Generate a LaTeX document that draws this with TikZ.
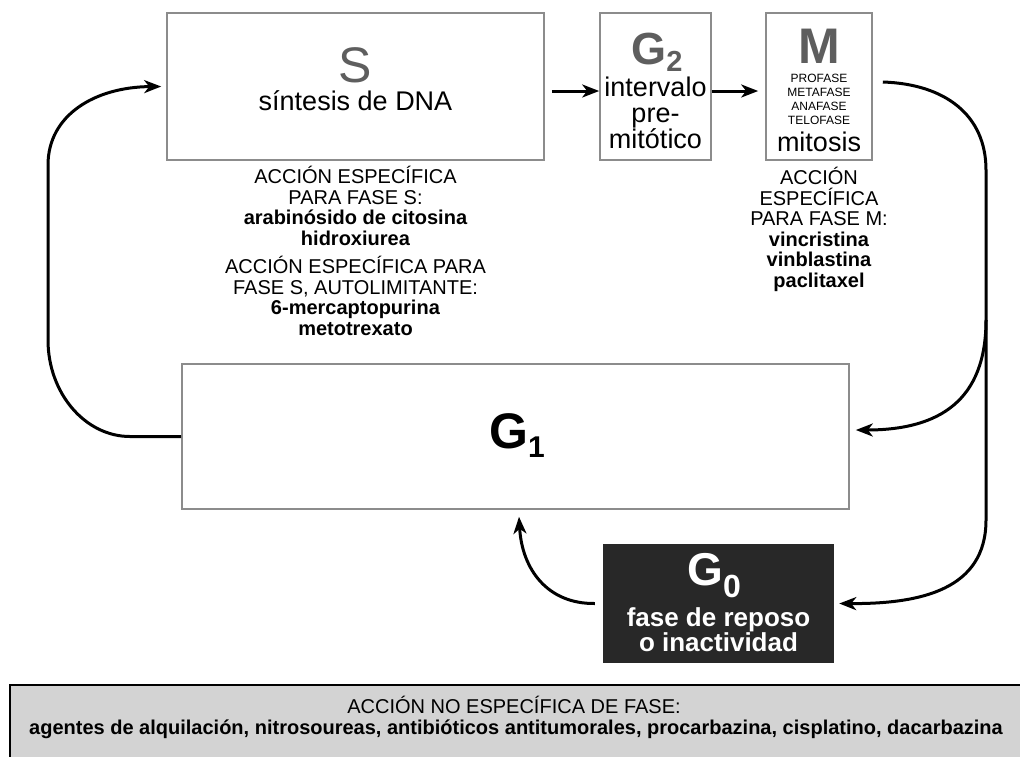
\documentclass[tikz,border=0pt]{standalone}
\usepackage{fontspec}
\setmainfont{Liberation Sans}
\usetikzlibrary{arrows.meta}
\definecolor{boxgray}{HTML}{8C8C8C}
\definecolor{lettergray}{HTML}{5E5E5E}
\definecolor{restfill}{HTML}{282828}
\definecolor{notefill}{HTML}{D3D3D3}
\newcommand{\fsz}[2]{\fontsize{#1}{#2}\selectfont}
\tikzset{
  phase/.style={draw=boxgray, line width=1.6pt, inner sep=0pt},
  cyclearrow/.style={line width=3pt, -{Stealth[length=17pt,width=13pt,inset=5pt]}},
  druglist/.style={align=center, inner sep=0pt, anchor=north, font=\fsz{20}{20.5}},
}
\begin{document}
\begin{tikzpicture}[x=1pt,y=-1pt]
      \useasboundingbox (0,0) rectangle (1020,756);
      \fill[white] (0,0) rectangle (1020,756);
      \node[phase, minimum width=377pt, minimum height=147pt] (S) at (355.5,86.5) {};
      \node[phase, minimum width=111pt, minimum height=147pt] (G2) at (655.5,86.5) {};
      \node[phase, minimum width=106pt, minimum height=147pt] (M) at (819,86.5) {};
      \node[phase, minimum width=667pt, minimum height=145pt] (G1) at (515.5,436.5) {};
      \node[fill=restfill, minimum width=231pt, minimum height=119pt, inner sep=0pt] (G0) at (718.5,603.5) {};
      \node[fill=notefill, minimum width=1020pt, minimum height=90pt, inner sep=0pt, anchor=north west] (note) at (10,685) {};
      \draw[line width=2.4pt] (note.south west) -- (note.north west) -- (note.north east);
      \node[text=lettergray, font=\fsz{50}{50}, anchor=base, inner sep=0pt] (Sletter) at (355.5,82) {S};
      \node[font=\fsz{27}{27}, anchor=base, inner sep=0pt] (Sname) at (355.5,110) {síntesis de DNA};
      \node[text=lettergray, font=\bfseries\fsz{45}{45}, anchor=base, inner sep=0pt] (G2letter) at (657,64) {G\raisebox{-7pt}{\fsz{29}{29}2}};
      \node[align=center, font=\fsz{27}{25.3}, anchor=north, inner sep=0pt] (G2name) at (655.5,77) {intervalo\\pre-\\mitótico};
      \node[text=lettergray, font=\bfseries\fsz{50}{50}, anchor=base, inner sep=0pt] (Mletter) at (819,63.5) {M};
      \node[align=center, font=\fsz{12}{14}, anchor=north, inner sep=0pt] (Mstages) at (819,73.5) {PROFASE\\METAFASE\\ANAFASE\\TELOFASE};
      \node[font=\fsz{27}{27}, anchor=base, inner sep=0pt] (Mname) at (819,151) {mitosis};
      \node[druglist] (Sdrugs) at (355.5,166) {ACCIÓN ESPECÍFICA\\PARA FASE S:\\\textbf{arabinósido de citosina}\\\textbf{hidroxiurea}};
      \node[druglist] (Sselfdrugs) at (355.5,256) {ACCIÓN ESPECÍFICA PARA\\FASE S, AUTOLIMITANTE:\\\textbf{6-mercaptopurina}\\\textbf{metotrexato}};
      \node[druglist] (Mdrugs) at (819,167) {ACCIÓN\\ESPECÍFICA\\PARA FASE M:\\\textbf{vincristina}\\\textbf{vinblastina}\\\textbf{paclitaxel}};
      \node[font=\bfseries\fsz{50}{50}, anchor=base, inner sep=0pt] (G1letter) at (517,448) {G\raisebox{-9pt}{\fsz{30}{30}1}};
      \node[text=white, font=\bfseries\fsz{46}{46}, anchor=base, inner sep=0pt] (G0letter) at (714,585) {G\raisebox{-12pt}{\fsz{32}{32}0}};
      \node[text=white, align=center, font=\bfseries\fsz{26}{25}, anchor=north, inner sep=0pt] (G0name) at (718.5,607) {fase de reposo\\o inactividad};
      \node[font=\fsz{20}{22}, anchor=base, inner sep=0pt] (notehead) at (514,713) {ACCIÓN NO ESPECÍFICA DE FASE:};
      \node[font=\bfseries\fsz{20}{22}, anchor=base, inner sep=0pt] (notelist) at (516,734) {agentes de alquilación, nitrosoureas, antibióticos antitumorales, procarbazina, cisplatino, dacarbazina};
      \coordinate (fork) at (986,320);
      \begin{scope}[cyclearrow]
        \draw ([xshift=7pt,yshift=-4.5pt]S.east) -- ([yshift=-4.5pt]G2.west);
        \draw ([yshift=-4.5pt]G2.east) -- ([xshift=-7pt,yshift=-4.5pt]M.west);
        \draw (fork) .. controls (986,400) and (940,430) .. ([xshift=6pt,yshift=6.5pt]G1.east);
        \draw (fork) -- (986,520) .. controls (986,590) and (920,604) .. ([xshift=5pt]G0.east);
        \draw ([xshift=-8pt]G0.west) .. controls (548,604) and (522,570) .. ([xshift=3.5pt,yshift=-7pt]G1.south);
        \draw (G1.west) -- (130,436.5) .. controls (85,436.5) and (48,393) .. (48,340) -- (48,165) .. controls (48,115) and (95,87) .. ([xshift=-5pt]S.west);
        \draw[-] ([xshift=10pt,yshift=4.5pt]M.east) .. controls (945,84) and (986,115) .. (986,170) -- (fork);
      \end{scope}
    \end{tikzpicture}
\end{document}
